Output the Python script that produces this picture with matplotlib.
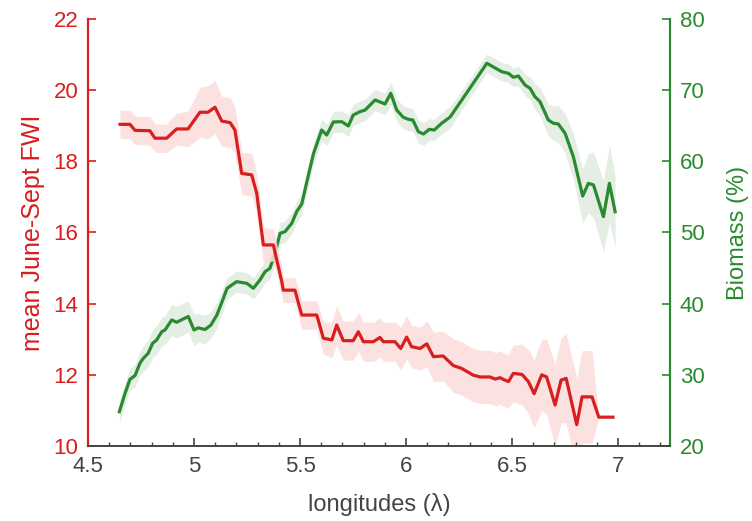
import numpy as np
import matplotlib.pyplot as plt
from matplotlib.ticker import MultipleLocator

plt.rcParams['font.family'] = ['Liberation Sans', 'DejaVu Sans']

# mean June-Sept FWI (left axis)
fwi_lon = [4.651, 4.698, 4.722, 4.792, 4.816, 4.871, 4.918, 4.972, 5.028, 5.066,
           5.099, 5.131, 5.170, 5.193, 5.225, 5.272, 5.296, 5.327, 5.374, 5.414,
           5.421, 5.476, 5.508, 5.579, 5.610, 5.650, 5.673, 5.704, 5.751, 5.775,
           5.799, 5.846, 5.877, 5.893, 5.948, 5.975, 6.003, 6.026, 6.066, 6.098,
           6.129, 6.175, 6.223, 6.262, 6.317, 6.349, 6.396, 6.420, 6.443, 6.459,
           6.483, 6.506, 6.547, 6.577, 6.604, 6.640, 6.663, 6.703, 6.731, 6.755,
           6.805, 6.830, 6.877, 6.909, 6.976]
fwi = [19.04, 19.04, 18.87, 18.86, 18.65, 18.65, 18.91, 18.91, 19.38, 19.38,
       19.52, 19.13, 19.09, 18.88, 17.66, 17.62, 17.10, 15.65, 15.65, 14.62,
       14.38, 14.38, 13.68, 13.68, 13.03, 12.98, 13.40, 12.96, 12.96, 13.21,
       12.93, 12.93, 13.05, 12.93, 12.93, 12.74, 13.06, 12.79, 12.74, 12.87,
       12.51, 12.53, 12.26, 12.18, 11.99, 11.94, 11.94, 11.88, 11.92, 11.87,
       11.81, 12.04, 12.01, 11.81, 11.47, 12.00, 11.94, 11.15, 11.85, 11.90,
       10.60, 11.38, 11.38, 10.81, 10.81]
fwi_err = [0.40, 0.40, 0.40, 0.40, 0.40, 0.40, 0.45, 0.50, 0.70, 0.75,
           0.75, 0.70, 0.70, 0.65, 0.60, 0.60, 0.55, 0.50, 0.45, 0.40,
           0.35, 0.35, 0.40, 0.40, 0.45, 0.50, 0.55, 0.55, 0.55, 0.55,
           0.55, 0.55, 0.55, 0.55, 0.55, 0.60, 0.60, 0.60, 0.60, 0.65,
           0.70, 0.70, 0.75, 0.75, 0.75, 0.75, 0.75, 0.75, 0.75, 0.75,
           0.75, 0.80, 0.85, 0.90, 0.95, 1.00, 1.05, 1.15, 1.20, 1.25,
           1.30, 1.30, 1.30, 0.00, 0.00]

# Biomass (right axis)
bio_lon = [4.648, 4.675, 4.698, 4.722, 4.745, 4.761, 4.784, 4.805, 4.824, 4.848,
           4.863, 4.895, 4.918, 4.973, 5.000, 5.020, 5.052, 5.080, 5.108, 5.132,
           5.156, 5.201, 5.249, 5.280, 5.311, 5.335, 5.358, 5.382, 5.406, 5.429,
           5.461, 5.484, 5.508, 5.532, 5.563, 5.602, 5.626, 5.657, 5.697, 5.728,
           5.751, 5.783, 5.807, 5.854, 5.901, 5.928, 5.956, 5.987, 6.011, 6.032,
           6.058, 6.082, 6.110, 6.133, 6.168, 6.208, 6.263, 6.317, 6.381, 6.451,
           6.483, 6.506, 6.530, 6.561, 6.585, 6.608, 6.632, 6.671, 6.695, 6.718,
           6.750, 6.789, 6.833, 6.860, 6.884, 6.931, 6.959, 6.986]
bio = [24.82, 27.41, 29.37, 29.90, 31.62, 32.32, 33.03, 34.43, 34.90, 36.06,
       36.30, 37.71, 37.38, 38.20, 36.30, 36.60, 36.37, 37.00, 38.41, 40.24,
       42.16, 43.09, 42.86, 42.16, 43.33, 44.49, 44.97, 47.08, 49.89, 50.11,
       51.29, 52.92, 54.00, 57.10, 61.03, 64.40, 63.70, 65.53, 65.57, 64.97,
       66.51, 66.98, 67.21, 68.62, 68.06, 69.56, 67.21, 66.19, 65.91, 65.81,
       64.16, 63.84, 64.50, 64.40, 65.35, 66.23, 68.62, 70.97, 73.78, 72.60,
       72.37, 71.81, 71.99, 70.73, 70.26, 69.08, 68.38, 65.81, 65.35, 65.25,
       63.94, 60.65, 55.13, 56.91, 56.68, 52.22, 56.91, 52.92]
bio_err = [1.5, 1.5, 1.5, 1.6, 1.7, 1.8, 1.9, 2.0, 2.0, 2.0,
           2.0, 2.2, 2.2, 2.2, 2.2, 2.0, 2.0, 1.8, 1.8, 1.6,
           1.5, 1.5, 1.5, 1.5, 1.5, 1.5, 1.5, 1.5, 1.5, 1.5,
           1.5, 1.5, 1.5, 1.5, 1.5, 1.5, 1.5, 1.5, 1.5, 1.5,
           1.5, 1.5, 1.5, 1.5, 1.5, 1.6, 1.6, 1.6, 1.6, 1.6,
           1.6, 1.6, 1.5, 1.5, 1.5, 1.5, 1.4, 1.3, 1.3, 1.3,
           1.3, 1.3, 1.4, 1.5, 1.6, 1.8, 2.0, 2.2, 2.4, 2.6,
           2.8, 3.2, 3.8, 4.2, 4.6, 5.0, 5.5, 5.0]

red = '#d81e1e'
green = '#2a8a2f'
gray = '#444444'

fig = plt.figure(figsize=(7.52, 5.21), dpi=100)
ax = fig.add_axes([0.117, 0.144, 0.774, 0.8195])
ax2 = ax.twinx()

fwi = np.array(fwi)
fwi_err = np.array(fwi_err)
bio = np.array(bio)
bio_err = np.array(bio_err)

ax2.fill_between(bio_lon, bio - bio_err, bio + bio_err, color='#e4eee4', lw=0, zorder=1)
ax2.plot(bio_lon, bio, color=green, lw=2.3, zorder=3)

ax.fill_between(fwi_lon, fwi - fwi_err, fwi + fwi_err, color='#fcdcdc', lw=0, alpha=0.85)
ax.plot(fwi_lon, fwi, color=red, lw=2.3)

# red on top of green like the reference
ax.set_zorder(ax2.get_zorder() + 1)
ax.patch.set_visible(False)

ax.set_xlim(4.5, 7.245)
ax.set_ylim(10, 22)
ax2.set_ylim(20, 80)
ax.set_xticks([4.5, 5, 5.5, 6, 6.5, 7])
ax.set_xticklabels(['4.5', '5', '5.5', '6', '6.5', '7'])
ax.xaxis.set_minor_locator(MultipleLocator(0.1))
ax.set_yticks(range(10, 23, 2))
ax2.set_yticks(range(20, 81, 10))

for a in (ax, ax2):
    a.spines['top'].set_visible(False)
ax.spines['right'].set_visible(False)
ax2.spines['left'].set_visible(False)
ax2.spines['bottom'].set_visible(False)
ax.spines['left'].set_color(red)
ax.spines['left'].set_linewidth(1.6)
ax2.spines['right'].set_color(green)
ax2.spines['right'].set_linewidth(1.6)
ax.spines['bottom'].set_color(gray)
ax.spines['bottom'].set_linewidth(1.4)

ax.tick_params(axis='x', which='both', direction='in', colors=gray, labelsize=16, pad=7)
ax.tick_params(axis='x', which='major', length=6, width=1.2)
ax.tick_params(axis='x', which='minor', length=3, width=1.0)
ax.tick_params(axis='y', direction='in', colors=red, labelsize=16, length=6, width=1.2, pad=7)
ax2.tick_params(axis='y', direction='in', colors=green, labelsize=16, length=6, width=1.2, pad=7)

ax.set_xlabel('longitudes (λ)', fontsize=17, color=gray, labelpad=12)
ax.set_ylabel('mean June-Sept FWI', fontsize=18, color=red, labelpad=6)
ax2.set_ylabel('Biomass (%)', fontsize=17, color=green, labelpad=16)

fig.savefig('out.png', dpi=100)
